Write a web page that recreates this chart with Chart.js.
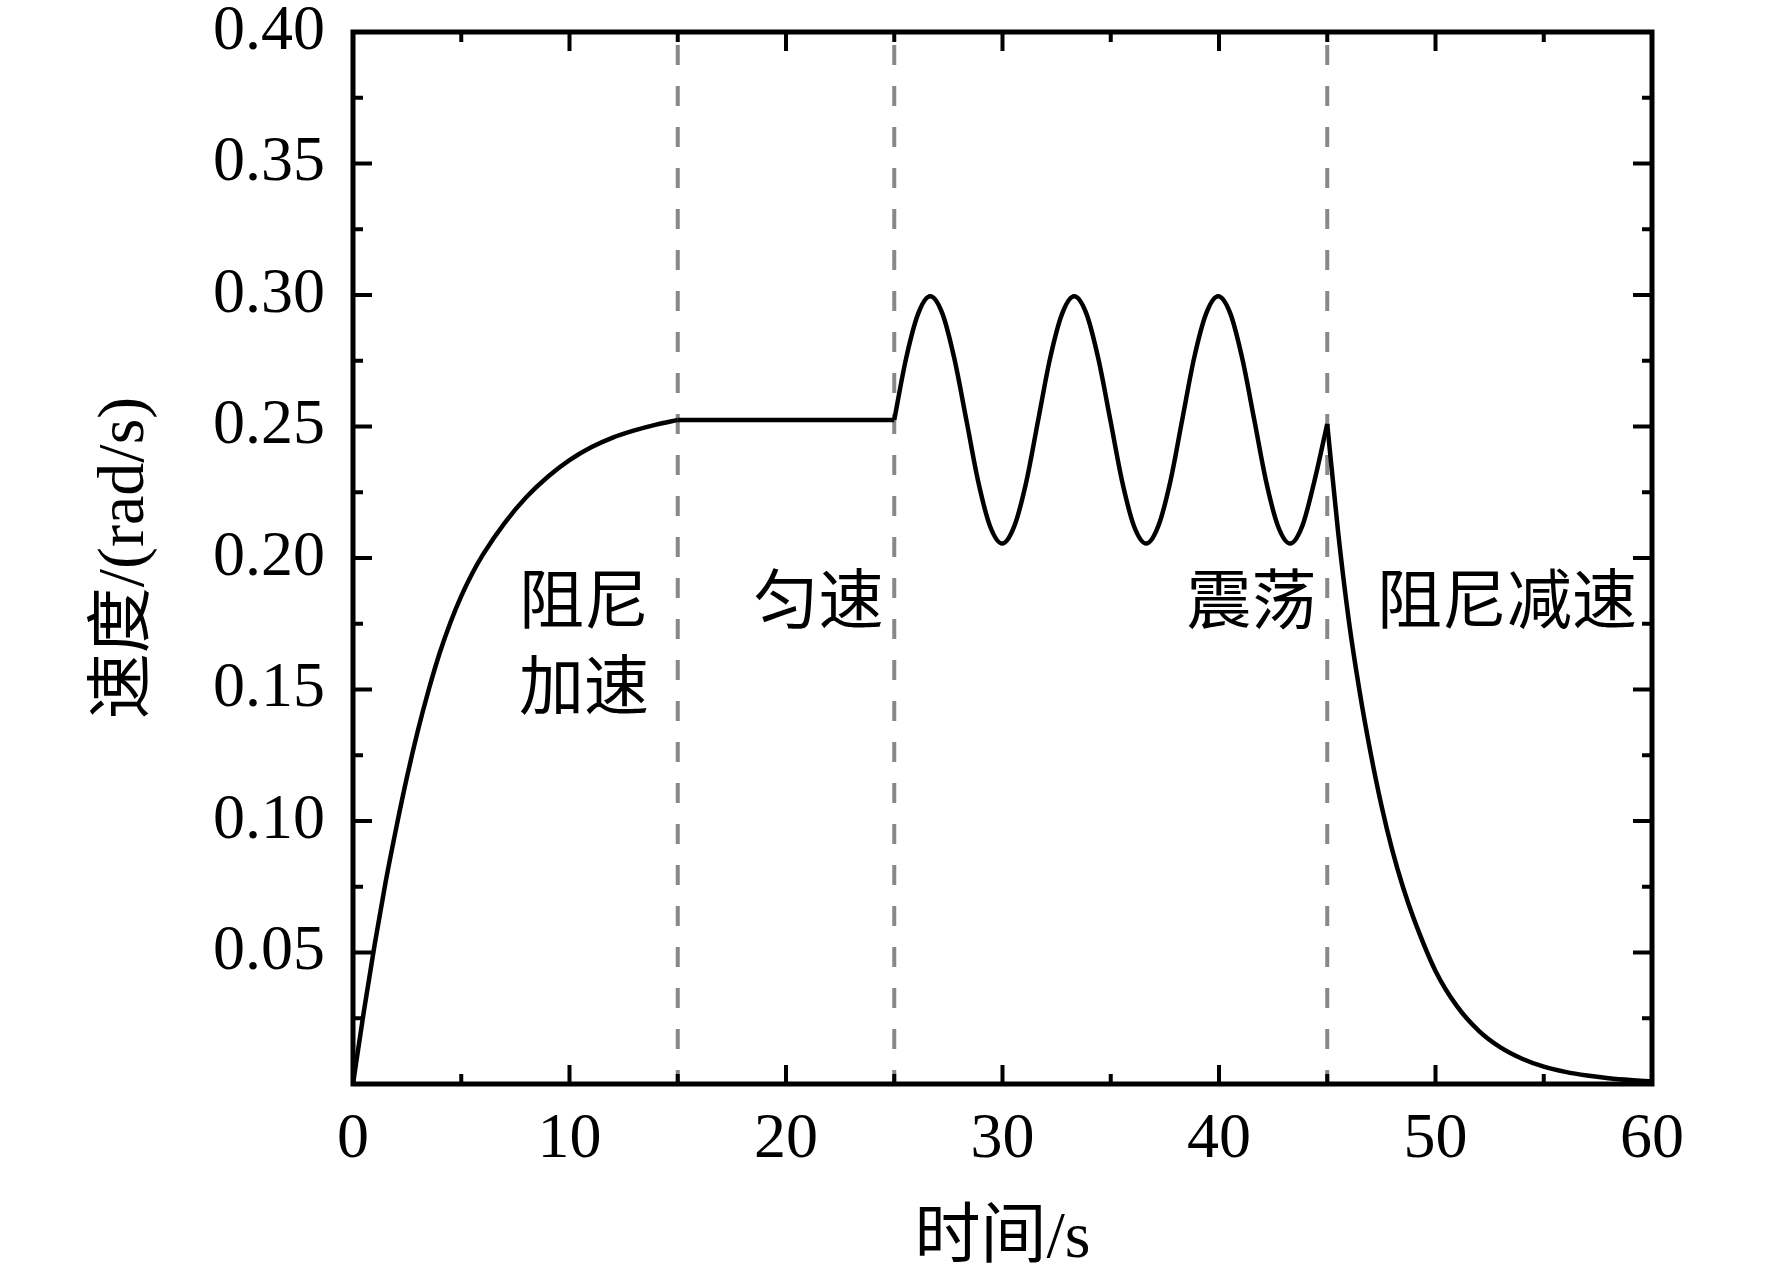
<!DOCTYPE html>
<html>
<head>
<meta charset="utf-8">
<script src="https://cdn.jsdelivr.net/npm/chart.js@4/dist/chart.umd.min.js"></script>
<style>
  html, body { margin: 0; padding: 0; background: #fff; }
  canvas { display: block; }
</style>
</head>
<body>
<canvas id="grafica" width="1772" height="1283"></canvas>
<script>
// 各阶段的时间 (s) 与速度 (rad/s)，读自原图
const accelTime  = [0, 0.5, 1, 1.5, 2, 2.5, 3, 3.5, 4, 4.5, 5, 5.5, 6, 7, 8, 9, 10, 11, 12, 13, 14, 15];
const accelSpeed = [0, 0.0275, 0.053, 0.0765, 0.0975, 0.117, 0.1345, 0.150, 0.1638, 0.1755, 0.1855, 0.194,
                    0.2013, 0.2133, 0.2231, 0.2309, 0.2372, 0.2421, 0.2458, 0.2485, 0.2507, 0.2525];

const uniformTime  = [15, 25];
const uniformSpeed = [0.2525, 0.2525];

const oscTime  = [25.00, 25.55, 26.11, 26.66, 27.22, 27.77, 28.33, 28.88, 29.43, 29.99, 30.54, 31.10,
                  31.65, 32.20, 32.76, 33.31, 33.87, 34.42, 34.98, 35.53, 36.08, 36.64, 37.19, 37.75,
                  38.30, 38.85, 39.41, 39.96, 40.52, 41.07, 41.63, 42.18, 42.73, 43.29, 43.84, 44.40, 45.00];
const oscSpeed = [0.2525, 0.276, 0.293, 0.2995, 0.293, 0.276, 0.2525, 0.229, 0.212, 0.2055, 0.212, 0.229,
                  0.2525, 0.276, 0.293, 0.2995, 0.293, 0.276, 0.2525, 0.229, 0.212, 0.2055, 0.212, 0.229,
                  0.2525, 0.276, 0.293, 0.2995, 0.293, 0.276, 0.2525, 0.229, 0.212, 0.2055, 0.212, 0.229, 0.251];

const decelTime  = [45, 45.5, 46, 46.5, 47, 47.5, 48, 48.5, 49, 50, 51, 52, 53, 54, 55, 56, 57, 58, 59, 60];
const decelSpeed = [0.251, 0.210, 0.176, 0.149, 0.126, 0.106, 0.089, 0.0748, 0.0628, 0.043, 0.0295, 0.0202,
                    0.0139, 0.0096, 0.0066, 0.0046, 0.0032, 0.0022, 0.0015, 0.001];

const phaseBounds = [15, 25, 45];
const phaseLabels = [
  { text: '阻尼', x: 10.67, y: 0.1847 },
  { text: '加速', x: 10.67, y: 0.152 },
  { text: '匀速', x: 21.5,  y: 0.1847 },
  { text: '震荡', x: 41.5,  y: 0.1847 },
  { text: '阻尼减速', x: 53.3, y: 0.1847 }
];

const xMajorTicks = [0, 10, 20, 30, 40, 50, 60];
const xMinorTicks = [5, 15, 25, 35, 45, 55];
const yMajorTicks = [0, 0.05, 0.10, 0.15, 0.20, 0.25, 0.30, 0.35, 0.40];
const yMinorTicks = [0.025, 0.075, 0.125, 0.175, 0.225, 0.275, 0.325, 0.375];

const SERIF = "'Liberation Serif', 'Times New Roman', 'Noto Sans CJK SC', serif";
const CJK = "'Noto Sans CJK SC', 'Liberation Serif', serif";

function puntos(ts, vs) {
  return ts.map(function (t, i) { return { x: t, y: vs[i] }; });
}

function curva(ts, vs) {
  return {
    data: puntos(ts, vs),
    borderColor: '#000',
    borderWidth: 4.5,
    pointRadius: 0,
    cubicInterpolationMode: 'monotone',
    order: 1
  };
}

const datasets = [];
phaseBounds.forEach(function (b) {
  datasets.push({
    data: [{ x: b, y: 0.4 }, { x: b, y: 0 }],
    borderColor: '#888888',
    borderWidth: 4,
    borderDash: [20, 21],
    borderDashOffset: 28,
    pointRadius: 0,
    order: 2
  });
});
datasets.push(curva(accelTime, accelSpeed));
datasets.push(curva(uniformTime, uniformSpeed));
datasets.push(curva(oscTime, oscSpeed));
datasets.push(curva(decelTime, decelSpeed));

// marco, marcas hacia dentro y textos de las fases
const marcoPlugin = {
  id: 'marco',
  afterDatasetsDraw: function (chart) {
    const ctx = chart.ctx;
    const a = chart.chartArea;
    const xs = chart.scales.x, ys = chart.scales.y;
    ctx.save();
    ctx.strokeStyle = '#000';
    ctx.lineWidth = 4;
    ctx.beginPath();
    function tickX(v, len) {
      const px = xs.getPixelForValue(v);
      ctx.moveTo(px, a.bottom); ctx.lineTo(px, a.bottom - len);
      ctx.moveTo(px, a.top); ctx.lineTo(px, a.top + len);
    }
    function tickY(v, len) {
      const py = ys.getPixelForValue(v);
      ctx.moveTo(a.left, py); ctx.lineTo(a.left + len, py);
      ctx.moveTo(a.right, py); ctx.lineTo(a.right - len, py);
    }
    xMajorTicks.forEach(function (v) { tickX(v, 19); });
    xMinorTicks.forEach(function (v) { tickX(v, 10); });
    yMajorTicks.forEach(function (v) { tickY(v, 19); });
    yMinorTicks.forEach(function (v) { tickY(v, 10); });
    ctx.stroke();

    ctx.lineWidth = 5;
    ctx.strokeRect(a.left, a.top, a.right - a.left, a.bottom - a.top);

    ctx.fillStyle = '#000';
    ctx.font = '65px ' + CJK;
    ctx.textAlign = 'center';
    ctx.textBaseline = 'middle';
    phaseLabels.forEach(function (l) {
      ctx.fillText(l.text, xs.getPixelForValue(l.x), ys.getPixelForValue(l.y));
    });
    ctx.restore();
  }
};

new Chart(document.getElementById('grafica').getContext('2d'), {
  type: 'line',
  data: { datasets: datasets },
  options: {
    responsive: false,
    devicePixelRatio: 1,
    animation: false,
    layout: { padding: { top: 32, right: 120, left: 0, bottom: 0 } },
    plugins: { legend: { display: false }, tooltip: { enabled: false } },
    scales: {
      x: {
        type: 'linear',
        min: 0, max: 60,
        grid: { display: false, drawTicks: false },
        border: { display: false },
        ticks: {
          stepSize: 10, autoSkip: false, padding: 18, color: '#000',
          font: { family: SERIF, size: 64, lineHeight: 1.2 }
        },
        title: {
          display: true, text: '时间/s', color: '#000',
          font: { family: SERIF, size: 66, lineHeight: 1.2 },
          padding: { top: 0, bottom: 4 }
        },
        afterFit: function (s) {
          s.height = 199;
          s.paddingLeft = 0; s.paddingRight = 0;
        }
      },
      y: {
        type: 'linear',
        min: 0, max: 0.4,
        grid: { display: false, drawTicks: false },
        border: { display: false },
        ticks: {
          stepSize: 0.05, padding: 28, color: '#000',
          font: { family: SERIF, size: 64, lineHeight: 1 },
          callback: function (v) { return Math.abs(v) < 1e-9 ? '' : v.toFixed(2); }
        },
        title: {
          display: true, text: '速度/(rad/s)', color: '#000',
          font: { family: SERIF, size: 66, lineHeight: 1.2 },
          padding: { top: 86, bottom: 0 }
        },
        afterFit: function (s) {
          s.width = 353;
          s.paddingTop = 0; s.paddingBottom = 0;
        }
      }
    }
  },
  plugins: [marcoPlugin]
});
</script>
</body>
</html>
